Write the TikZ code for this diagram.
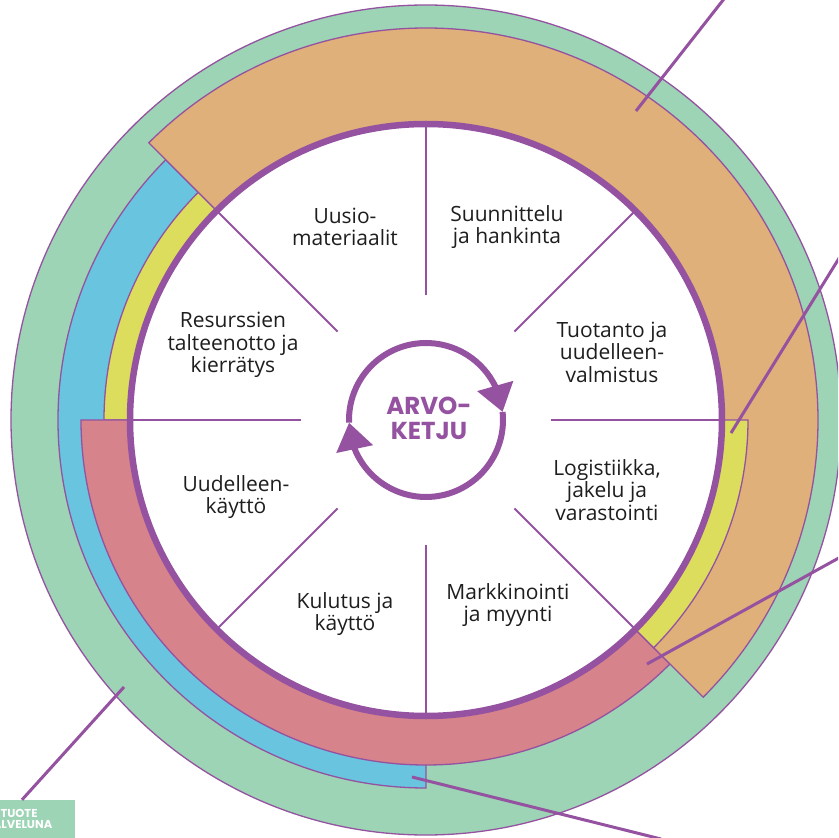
\documentclass[tikz,border=0pt]{standalone}
\usepackage{fontspec}
\setmainfont{Open Sans}
\newfontfamily\arvofont{Poppins}
\usepackage{tikz}
\usetikzlibrary{arrows.meta, bending}
\definecolor{ChainPurple}{RGB}{148,82,160}
\definecolor{RingGreen}{RGB}{157,212,181}
\definecolor{RingOrange}{RGB}{223,176,122}
\definecolor{RingBlue}{RGB}{105,196,224}
\definecolor{RingYellow}{RGB}{221,221,93}
\definecolor{RingRed}{RGB}{214,131,139}
\definecolor{TxtDark}{RGB}{30,30,30}
% annular sector: fill, start angle, end angle, inner radius, outer radius
\newcommand\ringband[5]{%
  \filldraw[band, fill=#1] (#2:#4) arc[start angle=#2, end angle=#3, radius=#4]
    -- (#3:#5) arc[start angle=#3, end angle=#2, radius=#5] -- cycle;}

\begin{document}
\begin{tikzpicture}[x=1pt, y=1pt,
          band/.style={draw=ChainPurple, line width=1.3pt},
          spoke/.style={draw=ChainPurple, line width=2pt},
          lead/.style={draw=ChainPurple, line width=3pt},
          lbl/.style={align=center, text=TxtDark, inner sep=0pt,
                      font=\fontsize{21}{22.5}\selectfont},
          cyc/.style={draw=ChainPurple, line width=6pt,
                      -{Triangle[length=27pt, width=36pt, flex]}}
        ]
        \useasboundingbox (-426,-418) rectangle (412,420);
        \clip (-426,-418) rectangle (412,420);

        % rings
        \filldraw[band, fill=RingGreen] (0,0) circle[radius=415];
        \ringband{RingBlue}{135}{270}{296}{368}
        \ringband{RingYellow}{135}{180}{296}{322}
        \ringband{RingRed}{180}{315}{296}{345}
        \ringband{RingOrange}{-45}{135}{296}{392}
        \ringband{RingYellow}{-45}{0}{296}{322}

        \filldraw[fill=white, draw=ChainPurple, line width=6.5pt]
              (0,0) circle[radius=296];
        \foreach \a in {0,45,...,315}
          \draw[spoke] (\a:125) -- (\a:296);

        % value chain stages
        \node[lbl] (matl)  at (-81, 193)  {Uusio-\\materiaalit};
        \node[lbl] (plan)  at (81, 193)   {Suunnittelu\\ja hankinta};
        \node[lbl] (prod)  at (186, 68)   {Tuotanto ja\\uudelleen-\\valmistus};
        \node[lbl] (logi)  at (181, -70)  {Logistiikka,\\jakelu ja\\varastointi};
        \node[lbl] (sell)  at (82, -185)  {Markkinointi\\ja myynti};
        \node[lbl] (use)   at (-81, -194) {Kulutus ja\\käyttö};
        \node[lbl] (reuse) at (-190, -77) {Uudelleen-\\käyttö};
        \node[lbl] (recyc) at (-193, 75)  {Resurssien\\talteenotto ja\\kierrätys};

        % centre
        \draw[cyc] (182:77) arc[start angle=182, end angle=6, radius=77];
        \draw[cyc] (6:77) arc[start angle=6, end angle=-178, radius=77];
        \node[align=center, text=ChainPurple, inner sep=0pt,
              font=\arvofont\bfseries\fontsize{24.5}{25}\selectfont]
              (arvo) at (3, 2) {ARVO-\\KETJU};

        % callouts
        \node[fill=RingGreen, text=white, minimum width=112pt, minimum height=38pt,
              inner sep=0pt, align=center,
              font=\arvofont\bfseries\fontsize{11.5}{11}\selectfont]
              (pserv) at (-407, -399) {TUOTE\\PALVELUNA};

        \coordinate (c1) at (210, 309);   \coordinate (e1) at (305, 430);
        \coordinate (c2) at (305, -13);   \coordinate (e2) at (420, 173);
        \coordinate (c3) at (221, -244);  \coordinate (e3) at (420, -134);
        \coordinate (c4) at (-14, -357);  \coordinate (e4) at (235, -419);
        \coordinate (c5) at (-302, -267);

        \draw[lead] (c1) -- (e1);
        \draw[lead] (c2) -- (e2);
        \draw[lead] (c3) -- (e3);
        \draw[lead] (c4) -- (e4);
        \draw[lead] (c5) -- ([xshift=3pt]pserv.north);
      \end{tikzpicture}
\end{document}
